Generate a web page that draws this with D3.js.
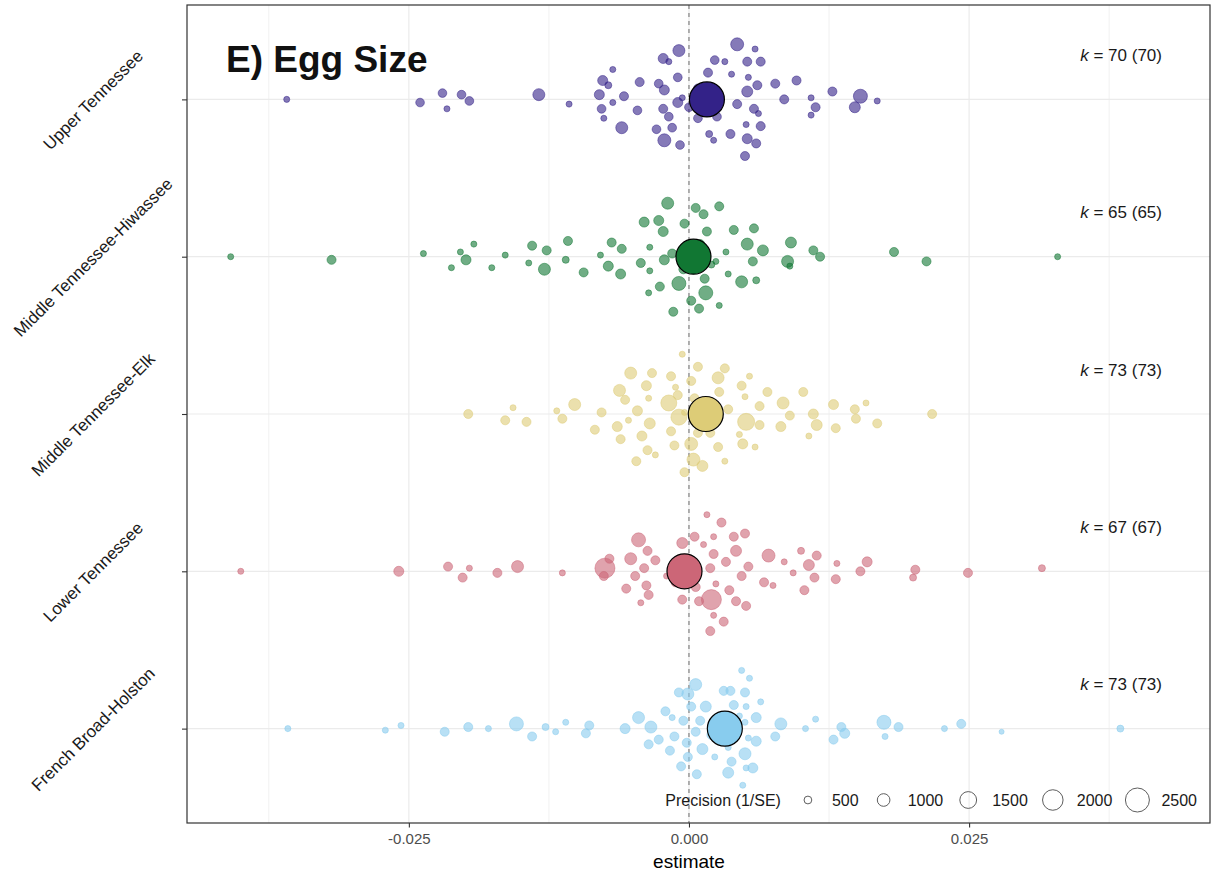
<!DOCTYPE html>
<html>
<head>
<meta charset="utf-8">
<script src="https://cdnjs.cloudflare.com/ajax/libs/d3/7.8.5/d3.min.js"></script>
<style>
  body { margin: 0; background: #fff; }
  svg { font-family: "Liberation Sans", Arial, sans-serif; }
</style>
</head>
<body>
<div id="chart"></div>
<script>

// categories, top to bottom
var regions = ['Upper Tennessee', 'Middle Tennessee-Hiwassee', 'Middle Tennessee-Elk', 'Lower Tennessee', 'French Broad-Holston'];
var palette = ['#332288', '#117733', '#DDCC77', '#CC6677', '#88CCEE'];

// pooled estimates and number of effect sizes
var meanEstimates = [0.0016, 0.0004, 0.0015, -0.0004, 0.0032];
var kCounts = [70, 65, 73, 67, 73];

var xTicks = [-0.025, 0, 0.025];
var xMinorTicks = [-0.0375, -0.0125, 0.0125, 0.0375];
var precisionBreaks = [500, 1000, 1500, 2000, 2500];

// effect sizes: [estimate, jitter (fraction of row step, + is up), precision 1/SE]
var upperTennessee = [
  [-0.0359, 0.00, 350], [-0.0240, -0.02, 580], [-0.0220, 0.04, 580], [-0.0216, -0.06, 350],
  [-0.0203, 0.03, 590], [-0.0196, -0.01, 590], [-0.0134, 0.03, 930], [-0.0107, -0.03, 350],
  [-0.0068, 0.19, 350], [-0.0077, 0.12, 720], [-0.0072, 0.09, 430], [-0.0080, 0.03, 720],
  [-0.0058, 0.02, 620], [-0.0068, -0.02, 350], [-0.0078, -0.06, 590], [-0.0076, -0.12, 350],
  [-0.0060, -0.18, 930], [-0.0046, -0.07, 590], [-0.0044, 0.11, 620], [-0.0027, 0.10, 590],
  [-0.0022, 0.06, 720], [-0.0023, 0.26, 720], [-0.0018, 0.24, 350], [-0.0009, 0.31, 930],
  [-0.0010, 0.14, 590], [-0.0006, 0.01, 350], [-0.0010, -0.02, 720], [-0.0023, -0.06, 620],
  [-0.0018, -0.11, 590], [-0.0015, -0.18, 590], [-0.0029, -0.19, 590], [-0.0022, -0.26, 1040],
  [-0.0008, -0.29, 590], [0.0008, -0.12, 590], [0.0043, 0.35, 1040], [0.0059, 0.32, 350],
  [0.0023, 0.25, 590], [0.0032, 0.24, 350], [0.0052, 0.24, 620], [0.0064, 0.24, 620],
  [0.0017, 0.17, 620], [0.0038, 0.16, 350], [0.0053, 0.14, 350], [0.0061, 0.09, 620],
  [0.0052, 0.05, 820], [0.0077, 0.10, 620], [0.0096, 0.12, 620], [0.0085, 0.00, 620],
  [0.0043, -0.03, 620], [0.0058, -0.06, 620], [0.0062, -0.09, 350], [0.0109, 0.01, 350],
  [0.0113, -0.05, 620], [0.0109, -0.10, 350], [0.0128, 0.05, 620], [0.0153, 0.02, 1160],
  [0.0148, -0.05, 820], [0.0168, -0.01, 350], [0.0025, -0.11, 590], [0.0018, -0.22, 430],
  [0.0022, -0.26, 350], [0.0037, -0.22, 620], [0.0051, -0.16, 350], [0.0064, -0.17, 620],
  [0.0052, -0.25, 720], [0.0060, -0.28, 620], [0.0050, -0.36, 620], [0.0008, 0.07, 590],
  [0.0025, -0.04, 620], [0.0000, -0.05, 590]
];

var middleHiwassee = [
  [-0.0409, 0.00, 350], [-0.0319, -0.02, 620], [-0.0237, 0.02, 350], [-0.0204, 0.03, 350],
  [-0.0192, 0.08, 350], [-0.0199, -0.02, 720], [-0.0212, -0.07, 350], [-0.0176, -0.07, 350],
  [-0.0164, 0.01, 350], [-0.0140, 0.07, 620], [-0.0127, 0.04, 620], [-0.0143, -0.04, 350],
  [-0.0129, -0.08, 930], [-0.0108, 0.10, 620], [-0.0110, -0.02, 430], [-0.0094, -0.10, 620],
  [-0.0079, 0.01, 350], [-0.0069, 0.09, 620], [-0.0060, 0.05, 620], [-0.0072, -0.06, 720],
  [-0.0061, -0.11, 720], [-0.0040, 0.22, 720], [-0.0027, 0.23, 720], [-0.0023, 0.16, 720],
  [-0.0019, 0.34, 930], [-0.0035, 0.06, 350], [-0.0043, -0.04, 620], [-0.0035, -0.09, 350],
  [-0.0022, -0.02, 720], [-0.0015, 0.02, 620], [-0.0009, -0.17, 1160], [-0.0026, -0.19, 620],
  [-0.0036, -0.23, 350], [-0.0004, 0.21, 620], [-0.0014, -0.35, 620], [0.0002, -0.28, 620],
  [0.0006, 0.31, 620], [0.0013, 0.27, 620], [0.0027, 0.32, 620], [0.0016, 0.16, 620],
  [0.0040, 0.17, 620], [0.0058, 0.18, 620], [0.0052, 0.08, 930], [0.0066, 0.04, 820],
  [0.0033, 0.03, 350], [0.0024, -0.03, 350], [0.0057, -0.03, 620], [0.0091, 0.09, 820],
  [0.0088, -0.03, 930], [0.0090, -0.06, 350], [0.0111, 0.04, 620], [0.0117, 0.00, 620],
  [0.0183, 0.03, 620], [0.0212, -0.03, 620], [0.0329, 0.00, 350], [0.0014, -0.14, 620],
  [0.0035, -0.11, 350], [0.0047, -0.16, 930], [0.0060, -0.15, 430], [0.0015, -0.23, 1160],
  [0.0009, -0.33, 620], [0.0027, -0.31, 350], [0.0010, 0.08, 620], [-0.0005, -0.08, 620],
  [0.0020, -0.05, 430]
];

var middleElk = [
  [-0.0197, 0.00, 620], [-0.0157, 0.04, 350], [-0.0164, -0.04, 620], [-0.0145, -0.05, 620],
  [-0.0118, 0.02, 350], [-0.0113, -0.03, 620], [-0.0102, 0.06, 930], [-0.0078, 0.01, 620],
  [-0.0084, -0.10, 620], [-0.0052, 0.26, 930], [-0.0033, 0.26, 620], [-0.0062, 0.15, 930],
  [-0.0057, 0.09, 620], [-0.0038, 0.18, 720], [-0.0036, 0.10, 350], [-0.0046, 0.02, 720],
  [-0.0054, -0.04, 350], [-0.0064, -0.08, 720], [-0.0061, -0.16, 620], [-0.0035, -0.06, 820],
  [-0.0042, -0.14, 720], [-0.0037, -0.23, 620], [-0.0030, -0.26, 350], [-0.0047, -0.30, 620],
  [-0.0016, 0.24, 620], [-0.0012, 0.17, 350], [-0.0006, 0.38, 350], [0.0002, 0.21, 620],
  [-0.0018, 0.07, 1400], [-0.0009, -0.02, 1400], [-0.0016, -0.11, 620], [-0.0013, -0.20, 620],
  [0.0002, -0.19, 1040], [0.0004, -0.29, 1040], [-0.0004, -0.37, 620], [-0.0004, 0.01, 350],
  [0.0008, 0.30, 620], [0.0032, 0.29, 620], [0.0026, 0.23, 930], [0.0054, 0.24, 350],
  [0.0027, 0.14, 620], [0.0047, 0.18, 620], [0.0050, 0.11, 350], [0.0070, 0.14, 620],
  [0.0102, 0.14, 620], [0.0063, 0.05, 620], [0.0084, 0.07, 930], [0.0035, 0.03, 620],
  [0.0051, -0.05, 1530], [0.0063, -0.07, 620], [0.0090, -0.01, 620], [0.0111, 0.00, 720],
  [0.0114, -0.07, 820], [0.0082, -0.08, 720], [0.0129, 0.06, 720], [0.0131, -0.09, 620],
  [0.0148, 0.03, 620], [0.0158, 0.07, 350], [0.0149, -0.03, 620], [0.0168, -0.06, 620],
  [0.0217, 0.00, 620], [0.0107, -0.14, 350], [0.0045, -0.13, 350], [0.0019, -0.12, 620],
  [0.0026, -0.21, 620], [0.0048, -0.19, 720], [0.0059, -0.21, 350], [0.0012, -0.33, 820],
  [0.0032, -0.30, 350], [0.0005, 0.10, 620], [0.0020, -0.02, 620], [0.0008, -0.12, 620],
  [-0.0010, 0.12, 620]
];

var lowerTennessee = [
  [-0.0400, 0.00, 350], [-0.0259, 0.00, 720], [-0.0215, 0.03, 620], [-0.0196, 0.02, 350],
  [-0.0202, -0.04, 620], [-0.0171, -0.01, 620], [-0.0153, 0.03, 930], [-0.0113, -0.01, 350],
  [-0.0075, 0.02, 1930], [-0.0071, 0.08, 620], [-0.0076, -0.03, 620], [-0.0045, 0.20, 1160],
  [-0.0052, 0.08, 930], [-0.0037, 0.13, 620], [-0.0030, 0.07, 620], [-0.0040, 0.02, 620],
  [-0.0048, -0.03, 620], [-0.0056, -0.11, 620], [-0.0038, -0.09, 620], [-0.0036, -0.15, 620],
  [-0.0043, -0.20, 350], [-0.0006, 0.18, 820], [0.0005, 0.22, 620], [-0.0006, -0.18, 620],
  [-0.0020, -0.03, 350], [0.0016, 0.36, 350], [0.0029, 0.31, 620], [0.0022, 0.22, 350],
  [0.0040, 0.22, 620], [0.0050, 0.24, 620], [0.0013, 0.17, 350], [0.0022, 0.11, 620],
  [0.0042, 0.13, 820], [0.0033, 0.06, 620], [0.0053, 0.03, 620], [0.0019, 0.02, 620],
  [0.0047, -0.03, 620], [0.0071, 0.10, 1040], [0.0085, 0.06, 350], [0.0100, 0.13, 430],
  [0.0114, 0.10, 620], [0.0107, 0.04, 820], [0.0093, -0.01, 350], [0.0112, -0.04, 620],
  [0.0067, -0.07, 620], [0.0075, -0.09, 350], [0.0103, -0.12, 620], [0.0132, 0.05, 350],
  [0.0131, -0.05, 620], [0.0159, 0.06, 720], [0.0153, 0.00, 620], [0.0202, 0.01, 620],
  [0.0200, -0.04, 430], [0.0249, -0.01, 620], [0.0315, 0.02, 430], [0.0024, -0.08, 350],
  [0.0036, -0.12, 620], [0.0020, -0.18, 1930], [0.0009, -0.19, 620], [0.0042, -0.19, 620],
  [0.0051, -0.22, 620], [0.0022, -0.28, 350], [0.0031, -0.32, 620], [0.0019, -0.38, 620],
  [0.0006, -0.10, 620], [0.0002, 0.06, 620], [-0.0012, -0.07, 620]
];

var frenchBroadHolston = [
  [-0.0358, 0.00, 350], [-0.0271, -0.01, 350], [-0.0257, 0.02, 350], [-0.0218, -0.02, 620],
  [-0.0197, 0.01, 620], [-0.0179, 0.00, 350], [-0.0154, 0.03, 1160], [-0.0140, -0.05, 620],
  [-0.0128, 0.01, 430], [-0.0119, -0.02, 350], [-0.0110, 0.04, 350], [-0.0089, 0.02, 620],
  [-0.0092, -0.03, 620], [-0.0057, 0.00, 720], [-0.0045, 0.07, 930], [-0.0034, 0.01, 930],
  [-0.0036, -0.10, 620], [-0.0027, -0.07, 620], [-0.0017, -0.14, 620], [-0.0021, 0.11, 620],
  [-0.0015, 0.07, 350], [-0.0005, 0.05, 620], [-0.0013, -0.05, 620], [-0.0002, -0.09, 620],
  [-0.0001, -0.18, 620], [-0.0007, -0.24, 620], [-0.0009, 0.23, 620], [-0.0001, 0.22, 930],
  [0.0006, 0.28, 930], [0.0002, 0.14, 620], [0.0007, -0.29, 620], [0.0006, -0.02, 620],
  [0.0047, 0.37, 350], [0.0054, 0.32, 350], [0.0031, 0.24, 620], [0.0037, 0.24, 620],
  [0.0050, 0.23, 620], [0.0064, 0.17, 350], [0.0015, 0.14, 820], [0.0040, 0.15, 620],
  [0.0051, 0.14, 350], [0.0060, 0.07, 720], [0.0050, 0.04, 350], [0.0082, 0.03, 930],
  [0.0077, -0.05, 620], [0.0104, 0.00, 350], [0.0113, 0.06, 350], [0.0136, 0.01, 620],
  [0.0139, -0.03, 720], [0.0129, -0.07, 620], [0.0174, 0.04, 1160], [0.0187, 0.01, 620],
  [0.0175, -0.05, 350], [0.0228, 0.00, 350], [0.0243, 0.03, 620], [0.0279, -0.02, 270],
  [0.0385, 0.00, 430], [0.0053, -0.06, 350], [0.0060, -0.08, 720], [0.0012, -0.13, 820],
  [0.0023, -0.18, 350], [0.0038, -0.21, 620], [0.0050, -0.16, 930], [0.0057, -0.25, 720],
  [0.0051, -0.25, 350], [0.0035, -0.28, 820], [0.0048, -0.36, 350], [0.0035, -0.12, 350],
  [0.0025, 0.06, 620], [0.0040, -0.06, 620], [0.0020, -0.04, 620], [0.0045, 0.08, 350],
  [0.0010, 0.05, 620]
];

var rowData = [upperTennessee, middleHiwassee, middleElk, lowerTennessee, frenchBroadHolston];

// ----------------------- layout -----------------------
var attrs = {
  width: 1215,
  height: 882,
  panelLeft: 187,
  panelRight: 1210,
  panelTop: 5,
  panelBottom: 823,
  meanRadius: 17.5
};

var svg = d3.select('#chart').append('svg')
  .attr('width', attrs.width)
  .attr('height', attrs.height);

var x = d3.scaleLinear().domain([-0.0448, 0.0465]).range([attrs.panelLeft, attrs.panelRight]);
var y = d3.scalePoint().domain(regions).range([attrs.panelTop, attrs.panelBottom]).padding(0.6);
var size = d3.scalePow().exponent(0.7).domain([0, 2500]).range([0, 12]);
var color = d3.scaleOrdinal().domain(regions).range(palette);

// flatten the rows into one table
var points = [];
rowData.forEach(function (rows, i) {
  rows.forEach(function (r) {
    points.push({ region: regions[i], estimate: r[0], jitter: r[1], precision: r[2] });
  });
});
var means = regions.map(function (d, i) {
  return { region: d, estimate: meanEstimates[i], k: kCounts[i] };
});

// gridlines
var grid = svg.append('g').attr('class', 'grid');
grid.selectAll('.minor').data(xMinorTicks).enter().append('line')
  .attr('x1', d => x(d)).attr('x2', d => x(d))
  .attr('y1', attrs.panelTop).attr('y2', attrs.panelBottom)
  .attr('stroke', '#ebebeb').attr('stroke-width', 0.7);
grid.selectAll('.major').data(xTicks).enter().append('line')
  .attr('x1', d => x(d)).attr('x2', d => x(d))
  .attr('y1', attrs.panelTop).attr('y2', attrs.panelBottom)
  .attr('stroke', '#ebebeb').attr('stroke-width', 1.2);
grid.selectAll('.hz').data(regions).enter().append('line')
  .attr('x1', attrs.panelLeft).attr('x2', attrs.panelRight)
  .attr('y1', d => y(d)).attr('y2', d => y(d))
  .attr('stroke', '#ebebeb').attr('stroke-width', 1.2);

// zero reference line
svg.append('line')
  .attr('x1', x(0)).attr('x2', x(0))
  .attr('y1', attrs.panelTop).attr('y2', attrs.panelBottom)
  .attr('stroke', '#6b6b6b').attr('stroke-width', 1)
  .attr('stroke-dasharray', '4,4');

// effect size points
svg.append('g').attr('class', 'points')
  .selectAll('circle').data(points).enter().append('circle')
  .attr('cx', d => x(d.estimate))
  .attr('cy', d => y(d.region) - d.jitter * y.step())
  .attr('r', d => size(d.precision))
  .attr('fill', d => color(d.region))
  .attr('fill-opacity', 0.6)
  .attr('stroke', d => color(d.region))
  .attr('stroke-opacity', 0.5)
  .attr('stroke-width', 1);

// pooled means
svg.append('g').attr('class', 'means')
  .selectAll('circle').data(means).enter().append('circle')
  .attr('cx', d => x(d.estimate))
  .attr('cy', d => y(d.region))
  .attr('r', attrs.meanRadius)
  .attr('fill', d => color(d.region))
  .attr('stroke', '#000')
  .attr('stroke-width', 1.2);

// k labels
var kText = svg.append('g').attr('class', 'k-labels')
  .selectAll('text').data(means).enter().append('text')
  .attr('x', 1162)
  .attr('y', d => y(d.region) - 38.5)
  .attr('text-anchor', 'end')
  .attr('font-size', 17)
  .attr('fill', '#1a1a1a');
kText.append('tspan').attr('font-style', 'italic').text('k');
kText.append('tspan').text(d => ' = ' + d.k + ' (' + d.k + ')');

// title
svg.append('text')
  .attr('x', 226).attr('y', 72)
  .attr('font-size', 37).attr('font-weight', 'bold')
  .attr('fill', '#111')
  .text('E) Egg Size');

// panel border
svg.append('rect')
  .attr('x', attrs.panelLeft).attr('y', attrs.panelTop)
  .attr('width', attrs.panelRight - attrs.panelLeft)
  .attr('height', attrs.panelBottom - attrs.panelTop)
  .attr('fill', 'none').attr('stroke', '#333').attr('stroke-width', 1.2);

// x axis
var xAxis = svg.append('g')
  .attr('transform', 'translate(0,' + attrs.panelBottom + ')')
  .call(d3.axisBottom(x).tickValues(xTicks).tickSize(4.5).tickSizeOuter(0).tickPadding(6)
    .tickFormat(d => d.toFixed(3)));
xAxis.select('.domain').remove();
xAxis.selectAll('line').attr('stroke', '#333').attr('stroke-width', 1.1);
xAxis.selectAll('text').attr('fill', '#4d4d4d').attr('font-size', 15)
  .attr('font-family', '"Liberation Sans", Arial, sans-serif');

svg.append('text')
  .attr('x', x(0)).attr('y', 868)
  .attr('text-anchor', 'middle')
  .attr('font-size', 19).attr('fill', '#000')
  .text('estimate');

// y axis with rotated labels
var yAxis = svg.append('g')
  .attr('transform', 'translate(' + attrs.panelLeft + ',0)')
  .call(d3.axisLeft(y).tickSize(5).tickSizeOuter(0));
yAxis.select('.domain').remove();
yAxis.selectAll('line').attr('stroke', '#333').attr('stroke-width', 1.1);
yAxis.selectAll('text')
  .attr('x', 0).attr('dy', '0.35em')
  .attr('text-anchor', 'middle')
  .attr('transform', 'translate(-94,0) rotate(-45)')
  .attr('fill', '#1a1a1a').attr('font-size', 17)
  .attr('font-family', '"Liberation Sans", Arial, sans-serif');

// size legend, laid out left to right then right-aligned in the panel
var legend = svg.append('g').attr('class', 'legend');
var legendY = 800;
var cursor = 0;
var legendTitle = legend.append('text')
  .attr('x', 0).attr('y', legendY + 5.5)
  .attr('font-size', 16).attr('fill', '#1a1a1a')
  .text('Precision (1/SE)');
cursor = legendTitle.node().getComputedTextLength() + 14;
var keyWidth = 26;
precisionBreaks.forEach(function (b) {
  legend.append('circle')
    .attr('cx', cursor + keyWidth / 2).attr('cy', legendY)
    .attr('r', size(b))
    .attr('fill', 'none').attr('stroke', '#5e5e5e').attr('stroke-width', 1);
  var t = legend.append('text')
    .attr('x', cursor + keyWidth + 11).attr('y', legendY + 5.5)
    .attr('font-size', 16).attr('fill', '#1a1a1a')
    .text(b);
  cursor += keyWidth + 11 + t.node().getComputedTextLength() + 12;
});
cursor -= 12;
legend.attr('transform', 'translate(' + (1197 - cursor) + ',0)');

</script>
</body>
</html>
